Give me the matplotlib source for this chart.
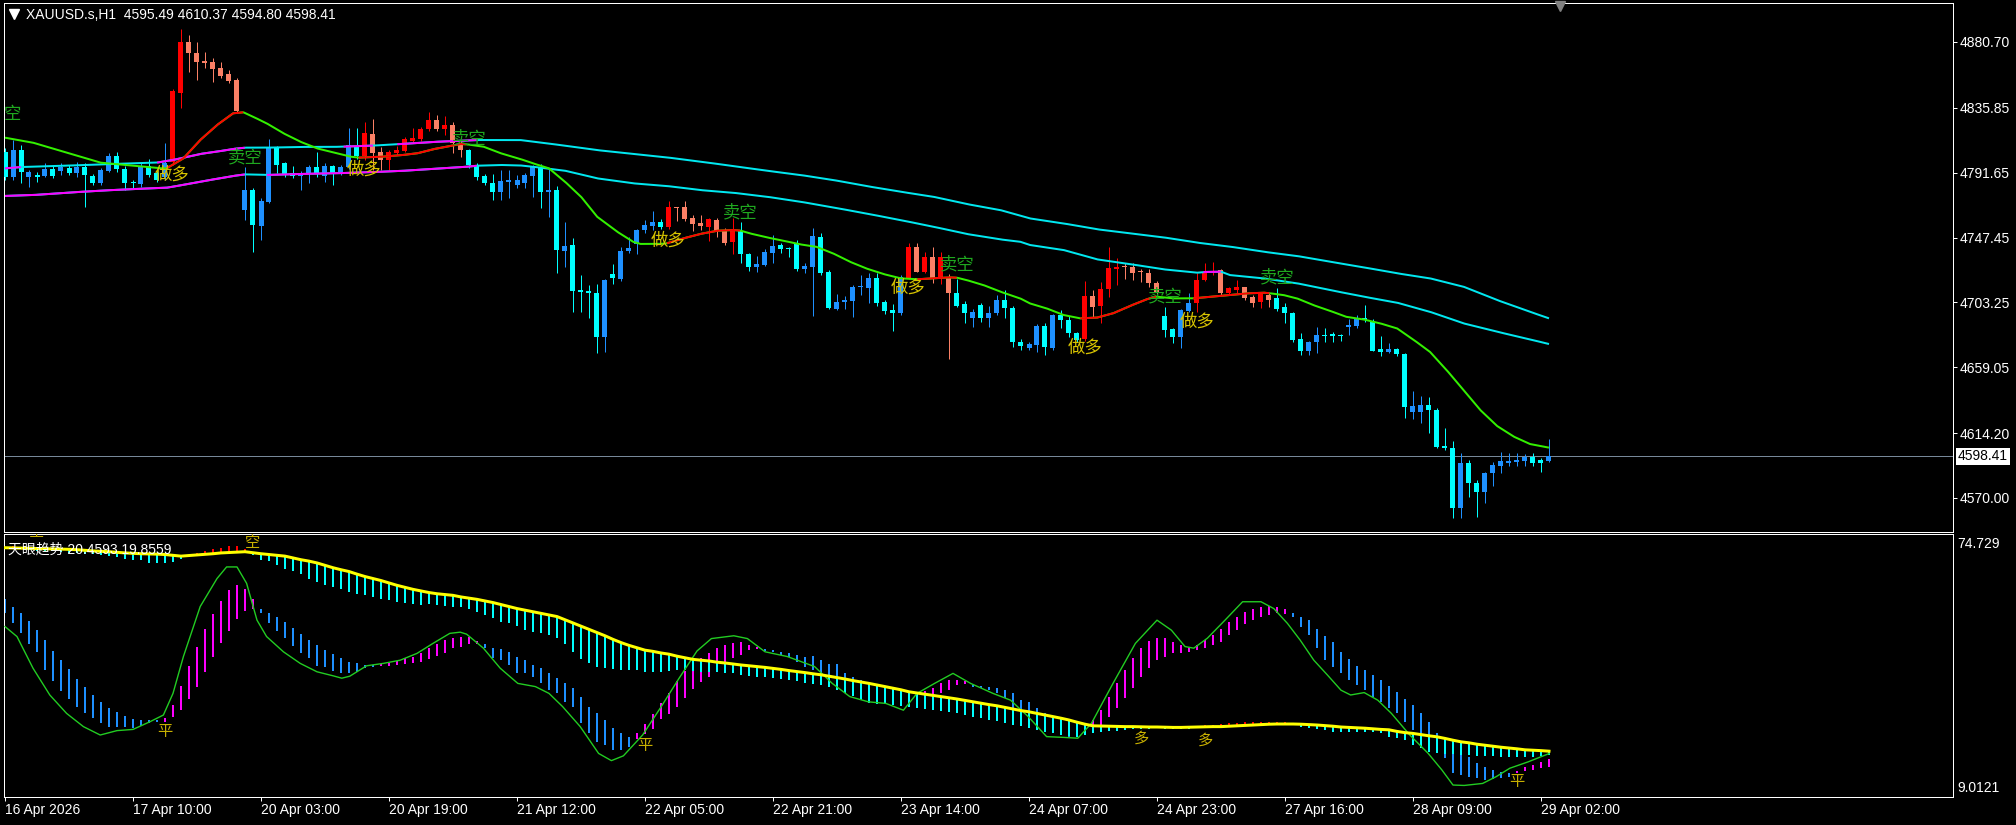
import numpy as np
import matplotlib
matplotlib.use("Agg")
import matplotlib.pyplot as plt
from matplotlib.lines import Line2D

# ---------------- data ----------------
opens = [4806.0, 4788.5, 4807.1, 4789.0, 4790.1, 4789.6, 4794.2, 4793.0, 4794.6, 4791.7,
 4795.7, 4789.4, 4784.4, 4793.0, 4803.0, 4794.2, 4785.5, 4783.9, 4796.2, 4791.2,
 4789.0, 4799.2, 4846.2, 4880.7, 4873.4, 4867.7, 4867.1, 4862.8, 4858.9, 4854.8,
 4766.2, 4779.8, 4755.5, 4771.9, 4808.7, 4798.0, 4791.7, 4789.4, 4790.8, 4795.5,
 4789.4, 4796.2, 4791.2, 4795.7, 4809.4, 4803.0, 4818.0, 4805.5, 4800.3, 4805.3,
 4806.7, 4813.5, 4814.4, 4821.6, 4827.5, 4821.6, 4824.1, 4811.7, 4807.1, 4796.9,
 4789.4, 4784.8, 4778.3, 4785.5, 4783.3, 4784.4, 4789.4, 4795.7, 4778.7, 4779.8,
 4738.5, 4742.4, 4711.7, 4711.0, 4709.9, 4679.4, 4722.6, 4719.2, 4738.3, 4742.8,
 4752.6, 4755.3, 4758.3, 4754.4, 4768.0, 4768.5, 4761.0, 4757.6, 4754.9, 4759.4,
 4752.6, 4744.6, 4752.1, 4736.2, 4727.6, 4728.7, 4737.2, 4742.4, 4740.1, 4744.0,
 4726.2, 4727.6, 4747.6, 4723.7, 4698.8, 4703.8, 4704.4, 4713.6, 4713.3, 4719.7,
 4703.8, 4698.1, 4695.8, 4719.7, 4740.8, 4724.2, 4734.4, 4719.7, 4720.3, 4709.4,
 4701.9, 4692.9, 4701.5, 4692.9, 4695.8, 4704.9, 4699.7, 4676.5, 4672.0, 4674.2,
 4687.4, 4672.0, 4694.7, 4691.3, 4682.2, 4678.1, 4707.6, 4700.8, 4712.2, 4726.3,
 4727.6, 4727.2, 4724.9, 4723.1, 4716.7, 4694.0, 4684.9, 4679.9, 4697.6, 4702.6,
 4718.5, 4723.5, 4725.3, 4709.4, 4711.9, 4713.5, 4707.2, 4703.8, 4708.3, 4706.0,
 4700.4, 4696.3, 4678.1, 4670.4, 4676.1, 4681.2, 4681.5, 4681.0, 4686.3, 4687.2,
 4692.9, 4690.2, 4671.3, 4669.5, 4671.3, 4668.1, 4628.8, 4628.8, 4633.4, 4630.0,
 4605.4, 4603.8, 4563.0, 4594.1, 4580.4, 4574.3, 4586.8, 4592.0, 4594.1, 4594.8,
 4595.2, 4598.2, 4595.9, 4595.49]
highs = [4808.2, 4813.9, 4810.5, 4793.5, 4792.3, 4798.5, 4796.0, 4798.0, 4797.0, 4799.0,
 4798.0, 4791.0, 4795.0, 4804.8, 4806.0, 4796.0, 4787.0, 4798.0, 4800.7, 4793.0,
 4811.7, 4849.0, 4889.3, 4885.5, 4880.5, 4873.9, 4869.6, 4867.3, 4861.6, 4856.0,
 4795.7, 4781.0, 4774.2, 4814.4, 4810.0, 4799.0, 4796.2, 4793.0, 4797.0, 4806.0,
 4798.0, 4797.0, 4797.0, 4821.9, 4821.9, 4826.4, 4828.0, 4809.4, 4807.0, 4809.8,
 4816.2, 4821.9, 4823.0, 4832.8, 4831.0, 4830.5, 4826.0, 4813.0, 4808.0, 4798.0,
 4791.0, 4790.5, 4793.5, 4793.5, 4790.0, 4791.5, 4797.0, 4797.5, 4794.6, 4782.6,
 4758.3, 4746.9, 4721.9, 4715.1, 4715.8, 4719.0, 4729.4, 4741.2, 4747.6, 4753.0,
 4759.4, 4765.8, 4759.9, 4772.6, 4768.5, 4772.6, 4762.8, 4762.8, 4761.0, 4760.5,
 4754.0, 4760.5, 4758.3, 4737.0, 4734.9, 4739.4, 4749.2, 4744.0, 4741.0, 4745.8,
 4729.9, 4753.7, 4750.8, 4725.3, 4709.0, 4707.6, 4715.1, 4721.9, 4723.1, 4723.5,
 4705.0, 4702.2, 4722.0, 4743.5, 4743.5, 4737.8, 4741.2, 4737.8, 4722.6, 4719.0,
 4704.4, 4698.5, 4702.6, 4700.8, 4708.3, 4711.7, 4701.0, 4678.0, 4676.0, 4688.6,
 4689.0, 4695.5, 4698.1, 4694.0, 4683.0, 4718.1, 4711.7, 4717.4, 4741.2, 4733.3,
 4729.9, 4729.9, 4725.8, 4725.8, 4718.0, 4700.4, 4686.0, 4699.0, 4709.4, 4723.1,
 4729.9, 4731.0, 4726.0, 4714.0, 4718.5, 4714.0, 4708.0, 4710.0, 4709.5, 4712.9,
 4703.1, 4697.0, 4682.6, 4677.0, 4686.7, 4685.6, 4683.3, 4682.0, 4691.7, 4694.7,
 4701.5, 4691.7, 4680.4, 4675.8, 4672.0, 4669.0, 4643.1, 4639.5, 4639.0, 4631.0,
 4617.5, 4608.8, 4600.5, 4595.9, 4582.0, 4588.0, 4594.8, 4601.6, 4600.5, 4600.5,
 4600.0, 4600.5, 4597.0, 4610.37]
lows = [4786.7, 4786.7, 4784.8, 4782.1, 4785.5, 4789.0, 4788.0, 4790.0, 4790.0, 4789.0,
 4768.0, 4783.0, 4783.0, 4792.0, 4792.0, 4779.9, 4781.0, 4782.0, 4789.0, 4785.0,
 4787.0, 4797.0, 4835.5, 4860.5, 4854.8, 4862.8, 4853.7, 4856.0, 4852.5, 4833.0,
 4759.4, 4737.8, 4745.8, 4771.0, 4791.7, 4789.0, 4787.8, 4779.9, 4784.4, 4789.0,
 4785.5, 4783.3, 4790.0, 4794.0, 4801.0, 4800.3, 4793.5, 4793.5, 4793.5, 4804.0,
 4806.0, 4812.0, 4813.0, 4820.0, 4820.0, 4817.3, 4805.3, 4802.6, 4795.0, 4786.7,
 4783.0, 4773.0, 4773.0, 4774.6, 4781.0, 4781.0, 4775.3, 4767.4, 4761.7, 4723.5,
 4727.6, 4697.0, 4697.0, 4692.9, 4668.5, 4669.2, 4715.8, 4718.0, 4737.0, 4736.2,
 4750.3, 4752.6, 4753.0, 4753.0, 4759.0, 4759.0, 4752.1, 4752.6, 4745.3, 4747.6,
 4742.4, 4736.2, 4729.9, 4724.9, 4724.2, 4728.0, 4730.3, 4737.2, 4734.4, 4725.0,
 4723.5, 4694.2, 4722.0, 4698.5, 4698.0, 4698.5, 4693.1, 4708.3, 4703.1, 4701.0,
 4695.4, 4684.0, 4695.0, 4719.0, 4724.0, 4723.0, 4716.3, 4715.8, 4664.5, 4700.0,
 4689.5, 4686.3, 4690.1, 4686.7, 4695.0, 4692.4, 4673.1, 4671.0, 4670.5, 4669.7,
 4667.4, 4671.0, 4685.6, 4679.9, 4676.0, 4677.0, 4693.5, 4689.5, 4706.7, 4715.1,
 4719.0, 4718.5, 4717.4, 4713.5, 4708.3, 4679.9, 4675.4, 4672.0, 4697.0, 4696.9,
 4718.0, 4722.0, 4708.3, 4708.0, 4709.4, 4705.0, 4699.9, 4699.2, 4700.4, 4697.6,
 4689.5, 4676.5, 4667.4, 4667.4, 4668.6, 4676.5, 4676.5, 4677.2, 4681.2, 4686.0,
 4690.0, 4670.0, 4666.8, 4669.0, 4667.0, 4624.3, 4623.6, 4620.9, 4614.1, 4604.3,
 4603.0, 4556.1, 4556.1, 4570.9, 4557.3, 4566.8, 4578.2, 4587.3, 4591.8, 4591.8,
 4591.8, 4591.8, 4588.0, 4594.80]
closes = [4789.0, 4807.1, 4791.9, 4792.1, 4789.0, 4794.2, 4789.6, 4795.7, 4791.7, 4795.7,
 4789.8, 4784.4, 4793.5, 4803.0, 4793.9, 4784.8, 4784.4, 4796.2, 4790.1, 4786.7,
 4798.0, 4847.5, 4880.7, 4873.0, 4867.3, 4866.6, 4862.5, 4857.5, 4854.3, 4833.9,
 4779.8, 4756.0, 4772.3, 4808.2, 4796.9, 4790.8, 4789.4, 4791.2, 4795.5, 4790.8,
 4796.2, 4791.2, 4795.7, 4810.5, 4803.0, 4818.5, 4805.3, 4800.3, 4806.0, 4807.1,
 4814.6, 4815.0, 4821.6, 4827.5, 4821.6, 4824.1, 4811.7, 4807.1, 4796.9, 4789.0,
 4784.4, 4778.7, 4785.7, 4786.7, 4786.7, 4790.1, 4795.7, 4778.7, 4779.8, 4739.0,
 4741.7, 4711.3, 4710.6, 4709.4, 4679.4, 4718.5, 4719.7, 4738.3, 4740.6, 4752.6,
 4756.0, 4758.3, 4754.4, 4768.5, 4767.4, 4760.1, 4756.7, 4755.5, 4759.9, 4752.1,
 4744.0, 4753.0, 4736.0, 4727.6, 4729.4, 4737.8, 4741.7, 4739.9, 4739.4, 4725.8,
 4728.1, 4748.5, 4723.1, 4699.2, 4703.8, 4704.9, 4714.0, 4714.0, 4719.7, 4702.6,
 4697.4, 4696.3, 4720.8, 4740.8, 4724.2, 4734.4, 4719.7, 4734.4, 4709.4, 4700.8,
 4695.8, 4697.0, 4692.9, 4696.3, 4704.9, 4699.2, 4676.5, 4673.5, 4674.7, 4687.4,
 4673.1, 4694.7, 4691.3, 4682.2, 4677.7, 4707.6, 4700.4, 4712.4, 4726.5, 4727.2,
 4727.2, 4723.5, 4724.0, 4716.7, 4710.6, 4684.5, 4679.9, 4698.1, 4702.6, 4718.5,
 4723.1, 4724.9, 4709.4, 4712.9, 4713.5, 4706.0, 4702.6, 4709.4, 4704.9, 4698.8,
 4696.3, 4677.7, 4670.4, 4676.5, 4681.2, 4680.4, 4680.6, 4680.2, 4687.9, 4691.7,
 4691.3, 4670.4, 4669.5, 4671.3, 4668.1, 4632.2, 4632.7, 4633.4, 4630.0, 4605.0,
 4603.8, 4563.0, 4594.1, 4580.4, 4574.3, 4586.8, 4592.5, 4595.2, 4595.2, 4595.9,
 4597.7, 4594.1, 4594.1, 4598.41]

# bars where the indicator is in the "up" state (red / salmon candles)
candle_up_ranges = [(21, 29), (45, 57), (83, 91), (113, 118), (135, 144), (149, 158)]

# fast MA (green, red while up)
fast_idx = [0, 3.5, 7.7, 11.9, 16, 19.4, 20.2, 22.3, 24.4, 26.5, 28.5, 29.8, 31, 32.7, 34.8,
 36.9, 39, 41, 43.1, 44.2, 45.2, 47.3, 49.4, 51.5, 53.5, 55.6, 56.9, 57.7, 59.8, 61.9,
 64.4, 66, 68, 70, 72, 74, 76.5, 78.5, 79.4, 81.9, 82.7, 84.8, 86.9, 89, 91,
 91.9, 93.1, 95.2, 97.3, 99.4, 101.4, 103.5, 105.6, 107.6, 109.8, 111.9, 114, 116, 118.1, 119,
 120.2, 122.3, 124.4, 126.9, 128.1, 130.2, 132.3, 134.4, 136.5, 138.5, 140.6, 142.7, 143.9, 146, 148.5,
 151, 153.1, 155.2, 157.3, 158.1, 159.8, 161.5, 163.5, 165.6, 167.6, 169.8, 171.9, 174, 176.1, 178.1,
 180.2, 182.3, 184.4, 186.5, 188.6, 190.6, 193]
fast_val = [4815.5, 4812.1, 4805.3, 4798.5, 4796.4, 4794.6, 4794.6, 4801.4, 4813.9, 4824.1,
 4832.1, 4832.8, 4829.8, 4825.3, 4818.5, 4812.8, 4808.2, 4805.5, 4802.6, 4801.9,
 4802.1, 4802.6, 4803.5, 4804.8, 4807.6, 4809.8, 4811.2, 4811.0, 4809.4, 4805.0,
 4801.0, 4798.0, 4794.6, 4785.5, 4775.3, 4761.7, 4751.5, 4744.6, 4743.1, 4743.1,
 4743.5, 4746.9, 4749.9, 4752.1, 4752.6, 4752.2, 4750.3, 4747.6, 4745.3, 4742.8,
 4741.2, 4736.7, 4731.0, 4726.5, 4722.6, 4719.7, 4719.0, 4719.7, 4720.3, 4720.1,
 4718.5, 4715.1, 4710.6, 4706.0, 4702.6, 4699.2, 4694.7, 4692.4, 4692.9, 4695.8,
 4700.8, 4705.4, 4707.2, 4706.0, 4706.0, 4707.2, 4708.3, 4709.4, 4709.9, 4709.5,
 4708.3, 4706.0, 4701.5, 4697.6, 4693.5, 4691.7, 4689.0, 4685.6, 4677.7, 4669.7,
 4657.2, 4643.6, 4630.0, 4619.1, 4611.8, 4606.8, 4604.3]
fast_up_ranges = [(20.2, 29.8), (44.2, 57.7), (82.7, 91.9), (114, 119), (134.4, 143.9), (148.5, 158.1)]

# two slow MAs (cyan, magenta while rising)
a_idx = [0, 2, 7.7, 11.9, 16, 19, 21, 24.4, 26.5, 28.5, 30, 32.7, 36.9, 41, 42.3, 46, 49, 53.5,
 59, 64.4, 68, 73.9, 78.5, 82.7, 86.9, 91, 95.2, 99.4, 103.5, 107.6, 111.9, 116, 120.2, 124.4,
 128.1, 132.3, 136.5, 140.6, 144.8, 149, 153.1, 157.3, 161.5, 165.6, 169.8, 174, 178.1, 182.3,
 186.5, 190.6, 193]
a_val = [4794.6, 4795.5, 4796.4, 4797.3, 4798.0, 4798.5, 4800.3, 4804.4, 4806.0, 4807.8,
 4808.7, 4808.7, 4809.2, 4809.2, 4809.4, 4810.1, 4811.0, 4812.6, 4813.9, 4813.9,
 4811.5, 4807.1, 4804.4, 4802.1, 4799.2, 4796.2, 4793.0, 4790.1, 4786.7, 4782.6,
 4778.7, 4775.3, 4770.3, 4766.2, 4760.5, 4757.1, 4753.1, 4750.3, 4747.6, 4744.0,
 4741.3, 4737.8, 4734.9, 4731.0, 4727.2, 4723.1, 4719.7, 4714.0, 4704.9, 4696.9, 4692.4]
a_rise_ranges = [(0, 2), (19, 30), (42.3, 46), (49, 59)]
b_idx = [0, 3.5, 7.7, 11.9, 16, 20.2, 21, 24.4, 28.5, 30, 32.7, 36.9, 41, 45.2, 49.4, 53.5,
 57.7, 59, 61.9, 64.4, 66, 70, 74, 78.5, 82.7, 86.9, 91, 95.2, 99.4, 103.5, 107.6, 111.9,
 116, 120.2, 124.4, 126.9, 128.1, 132.3, 136.5, 140.6, 144.8, 149, 150, 152, 153.1, 157.3,
 161.5, 165.6, 169.8, 174, 178.1, 182.3, 186.5, 190.6, 193]
b_val = [4775.8, 4776.4, 4778.0, 4779.4, 4780.5, 4781.4, 4782.1, 4785.5, 4789.4, 4790.5,
 4790.1, 4790.8, 4791.2, 4791.9, 4792.8, 4794.2, 4795.7, 4796.4, 4796.9, 4796.6,
 4795.7, 4793.0, 4787.8, 4784.4, 4782.6, 4779.8, 4778.0, 4775.3, 4771.9, 4768.0,
 4763.9, 4759.4, 4754.9, 4749.9, 4746.2, 4744.6, 4742.4, 4739.0, 4732.6, 4729.4,
 4725.8, 4723.5, 4724.0, 4724.2, 4721.9, 4719.7, 4716.3, 4711.7, 4707.2, 4703.1,
 4696.9, 4689.0, 4683.3, 4678.1, 4674.9]
b_rise_ranges = [(0, 30), (32.7, 59), (149.8, 152)]

# signal labels on the price chart
sig_idx = [0.9, 20.9, 30.0, 44.9, 58.0, 82.9, 91.9, 112.9, 119.0, 135.0, 145.0, 149.0, 159.0]
sig_price = [4831.3, 4790.1, 4802.3, 4793.5, 4815.3, 4745.1, 4764.9, 4713.1, 4728.8,
             4672.2, 4707.6, 4689.9, 4720.6]
sig_text = ["空", "做多", "卖空", "做多", "卖空", "做多", "卖空", "做多", "卖空",
            "做多", "卖空", "做多", "卖空"]

price_ticks = [4880.70, 4835.85, 4791.65, 4747.45, 4703.25, 4659.05, 4614.20, 4570.00]
last_price = 4598.41
x_tick_idx = [0, 16, 32, 48, 64, 80, 96, 112, 128, 144, 160, 176, 192]
x_tick_labels = ["16 Apr 2026", "17 Apr 10:00", "20 Apr 03:00", "20 Apr 19:00", "21 Apr 12:00",
                 "22 Apr 05:00", "22 Apr 21:00", "23 Apr 14:00", "24 Apr 07:00", "24 Apr 23:00",
                 "27 Apr 16:00", "28 Apr 09:00", "29 Apr 02:00"]

# ---- sub window "天眼趋势" ----
slow_line = [71.3, 71.25, 71.2, 71.15, 71.1, 71.05, 71.0, 70.95, 70.9, 70.8,
 70.65, 70.5, 70.4, 70.3, 70.15, 70.0, 69.9, 69.8, 69.75, 69.7,
 69.6, 69.4, 69.2, 69.35, 69.5, 69.65, 69.8, 70.0, 70.1, 70.2,
 70.3, 70.05, 69.8, 69.6, 69.4, 69.2, 68.75, 68.3, 67.95, 67.5,
 66.9, 66.3, 65.8, 65.35, 64.7, 64.1, 63.6, 63.1, 62.5, 61.9,
 61.4, 60.9, 60.5, 60.1, 59.8, 59.6, 59.4, 59.0, 58.7, 58.4,
 58.0, 57.6, 57.1, 56.6, 56.1, 55.7, 55.3, 54.9, 54.5, 54.1,
 53.3, 52.5, 51.7, 50.9, 50.1, 49.3, 48.4, 47.6, 46.9, 46.3,
 45.7, 45.4, 45.0, 44.7, 44.2, 43.8, 43.4, 43.2, 43.0, 42.7,
 42.5, 42.25, 42.0, 41.8, 41.6, 41.4, 41.15, 40.9, 40.6, 40.35,
 40.1, 39.8, 39.55, 39.2, 38.85, 38.5, 38.1, 37.75, 37.4, 37.0,
 36.6, 36.2, 35.8, 35.3, 35.0, 34.7, 34.4, 34.1, 33.8, 33.5,
 33.15, 32.8, 32.45, 32.1, 31.8, 31.4, 31.0, 30.6, 30.3, 29.9,
 29.5, 29.1, 28.7, 28.25, 27.7, 27.2, 26.8, 26.75, 26.7, 26.65,
 26.6, 26.6, 26.55, 26.5, 26.5, 26.45, 26.4, 26.4, 26.45, 26.5,
 26.55, 26.6, 26.6, 26.7, 26.8, 26.9, 27.0, 27.1, 27.2, 27.25,
 27.25, 27.25, 27.2, 27.1, 27.0, 26.85, 26.7, 26.5, 26.4, 26.3,
 26.2, 26.05, 25.9, 25.8, 25.4, 25.1, 24.9, 24.6, 24.3, 24.05,
 23.65, 23.2, 22.8, 22.55, 22.2, 21.95, 21.7, 21.45, 21.25, 21.05,
 20.8, 20.7, 20.6, 20.46]
hist_end = [71.0, 71.8, 70.9, 70.8, 70.6, 70.5, 70.4, 70.2, 70.0, 69.9,
 69.7, 69.7, 69.5, 69.2, 68.9, 68.4, 68.2, 68.2, 67.6, 67.4,
 67.6, 67.8, 68.6, 69.6, 69.9, 70.6, 71.1, 71.3, 71.8, 71.8,
 70.9, 69.5, 68.2, 68.0, 67.1, 66.1, 65.6, 64.7, 63.6, 62.8,
 62.0, 61.6, 60.9, 60.3, 59.7, 59.5, 59.1, 58.6, 58.2, 57.8,
 57.4, 57.2, 57.1, 57.2, 56.9, 56.7, 56.6, 56.4, 55.9, 55.2,
 54.5, 53.8, 52.8, 52.4, 51.7, 50.7, 50.3, 49.9, 49.5, 48.8,
 47.3, 45.3, 43.5, 42.4, 41.6, 41.2, 40.9, 40.7, 40.7, 40.7,
 40.3, 40.3, 40.3, 40.5, 40.8, 40.8, 40.5, 40.3, 40.3, 40.3,
 40.1, 39.9, 39.6, 39.3, 39.1, 38.9, 38.7, 38.5, 38.2, 37.9,
 37.6, 37.3, 37.0, 36.6, 35.8, 35.0, 34.2, 33.2, 32.4, 32.3,
 32.2, 32.0, 31.8, 31.6, 31.3, 31.0, 30.8, 30.5, 30.2, 29.9,
 29.5, 29.1, 28.7, 28.3, 27.9, 27.5, 27.1, 26.7, 26.2, 25.8,
 25.3, 25.0, 24.6, 24.2, 24.1, 24.5, 24.9, 25.3, 25.5, 25.6,
 25.8, 25.9, 26.0, 26.1, 26.2, 26.0, 25.9, 25.9, 25.9, 26.3,
 26.9, 27.0, 27.2, 27.4, 27.6, 27.7, 27.8, 27.8, 27.8, 27.8,
 27.8, 27.6, 26.6, 26.15, 25.9, 25.7, 25.3, 25.3, 25.3, 25.3,
 25.3, 25.3, 24.9, 24.1, 23.7, 23.2, 22.0, 21.2, 20.3, 19.9,
 19.75, 19.7, 19.5, 19.4, 19.33, 19.25, 19.16, 19.08, 19.08, 19.08,
 19.0, 18.9, 19.25, 19.5]
osc_top = [58.5, 56.6, 54.9, 53.0, 50.7, 48.2, 45.6, 43.2, 40.9, 38.4,
 36.4, 34.5, 32.7, 31.3, 30.2, 29.2, 28.5, 28.2, 28.2, 28.2,
 28.7, 32.0, 36.7, 41.7, 46.6, 50.9, 54.7, 58.1, 60.7, 62.0,
 60.9, 58.4, 55.9, 54.9, 53.9, 52.7, 51.3, 49.7, 48.2, 47.0,
 45.7, 44.7, 43.7, 42.8, 42.4, 42.0, 42.0, 42.2, 42.4, 43.1,
 43.7, 44.1, 44.9, 46.2, 47.2, 48.2, 48.7, 49.1, 49.1, 48.1,
 47.2, 46.3, 46.0, 45.3, 44.1, 43.2, 42.0, 41.2, 39.9, 38.7,
 37.4, 36.2, 34.1, 31.6, 29.9, 28.2, 26.2, 24.9, 24.1, 25.0,
 27.3, 29.8, 32.6, 35.1, 38.0, 40.5, 42.4, 43.8, 44.9, 46.2,
 47.0, 47.6, 47.8, 47.0, 46.4, 45.9, 45.7, 45.3, 44.9, 44.5,
 44.1, 44.2, 43.2, 42.2, 42.2, 40.1, 39.1, 38.2, 37.4, 37.0,
 36.6, 36.2, 35.7, 35.3, 35.0, 35.4, 36.2, 37.4, 38.2, 38.2,
 38.0, 37.0, 36.8, 36.6, 36.2, 35.7, 34.9, 33.2, 32.8, 31.2,
 29.9, 29.1, 28.2, 27.8, 27.8, 27.0, 28.2, 30.7, 34.1, 37.4,
 40.7, 43.7, 46.2, 48.1, 48.7, 48.7, 47.8, 47.0, 46.6, 47.0,
 48.2, 49.5, 51.1, 52.8, 54.1, 55.3, 56.1, 56.6, 56.7, 56.4,
 55.9, 54.9, 54.1, 53.2, 51.1, 49.2, 47.8, 45.3, 43.4, 41.8,
 40.7, 39.5, 38.2, 36.7, 35.3, 33.4, 32.0, 29.9, 27.8, 24.9,
 23.7, 22.2, 20.7, 18.9, 17.4, 16.4, 15.8, 15.3, 14.9, 15.6,
 16.6, 17.0, 17.8, 18.4]
osc_bot = [55.0, 52.6, 50.1, 47.2, 45.3, 40.7, 38.1, 35.6, 33.4, 31.6,
 30.1, 28.7, 27.4, 26.6, 26.4, 26.6, 26.2, 26.8, 27.4, 27.8,
 27.8, 28.9, 30.7, 33.4, 36.6, 40.3, 43.9, 47.4, 50.6, 53.4,
 55.5, 55.9, 54.9, 52.6, 50.6, 48.7, 46.8, 44.9, 43.7, 41.8,
 41.6, 40.6, 40.1, 40.1, 40.3, 41.2, 41.6, 41.7, 41.8, 42.0,
 42.2, 42.4, 42.8, 43.4, 44.2, 45.1, 46.2, 46.6, 47.2, 47.2,
 46.2, 43.7, 43.2, 42.0, 39.9, 39.9, 39.1, 37.4, 35.7, 34.9,
 32.8, 31.6, 27.4, 24.9, 22.8, 22.0, 20.7, 20.7, 21.6, 23.5,
 24.7, 26.0, 28.4, 29.7, 31.5, 33.8, 35.9, 37.8, 39.1, 40.7,
 42.4, 43.7, 44.5, 45.7, 45.9, 45.6, 45.2, 44.5, 44.1, 42.8,
 41.6, 40.7, 39.5, 38.2, 37.0, 35.7, 34.9, 34.1, 33.2, 32.8,
 32.4, 32.2, 32.0, 32.0, 33.4, 34.0, 34.5, 34.9, 35.7, 37.0,
 37.2, 36.6, 36.2, 35.7, 34.9, 33.7, 30.3, 28.2, 26.6, 26.2,
 26.2, 25.3, 24.9, 24.1, 24.1, 25.5, 26.6, 27.0, 29.1, 31.2,
 33.7, 36.2, 39.1, 41.2, 43.2, 44.1, 44.9, 45.1, 45.3, 45.7,
 46.2, 47.0, 47.8, 49.5, 50.7, 52.2, 53.2, 54.1, 54.5, 54.9,
 54.7, 54.1, 51.6, 49.5, 46.2, 43.2, 41.6, 39.9, 38.2, 37.0,
 35.7, 34.1, 32.8, 31.2, 29.9, 27.8, 25.7, 23.2, 21.6, 19.9,
 18.7, 14.9, 14.5, 14.1, 13.7, 13.2, 13.4, 13.7, 14.1, 15.1,
 15.6, 15.8, 16.2, 16.4]
osc_up_ranges = [(20, 31), (47, 59), (79, 94), (115, 120), (136, 160), (189, 193)]
g_idx = [0, 1.5, 3.5, 5.6, 7.7, 9.8, 11.9, 14, 16, 18.1, 19.8, 21, 22.3, 24.4, 26.5, 27.7, 29,
 30.2, 31.5, 32.7, 34.8, 36.9, 39, 41, 42.1, 43.1, 45.2, 47.3, 49.4, 51.5, 53.5, 55.6, 56.9,
 57.7, 59.8, 61.9, 64.1, 66.3, 68, 69.7, 71.9, 74.2, 75.8, 77.3, 79.7, 82, 84.2, 86.5, 88.3,
 91.1, 92.8, 95, 97.8, 101.2, 103.4, 105.6, 107.9, 110.1, 112.3, 114, 116.2, 118.5, 120.7,
 123.5, 125.7, 127.9, 130.2, 132.4, 134.1, 135.8, 138.5, 141.3, 144, 145.8, 147.5, 148.6,
 150.3, 152.5, 154.7, 157, 158.6, 160.3, 161.9, 163.6, 165.3, 167, 168.2, 169.9, 171.6,
 173.3, 175.6, 177.9, 179.6, 181, 182.4, 184.7, 186.4, 188.1, 190.4, 193]
g_val = [51.6, 49.1, 41.2, 34.5, 29.9, 26.6, 24.5, 25.6, 25.9, 27.8, 29.5, 34.9, 44.1, 56.6,
 63.6, 66.5, 66.5, 62.4, 53.2, 49.1, 45.3, 42.4, 40.3, 39.3, 38.7, 39.2, 41.8, 42.4, 43.2,
 44.9, 47.4, 49.9, 50.2, 49.7, 46.2, 41.2, 37.4, 36.6, 34.9, 31.6, 26.6, 19.9, 18.1, 19.3,
 24.5, 31.5, 38.5, 45.5, 48.6, 49.3, 48.6, 45.3, 44.1, 41.6, 37.4, 34.1, 32.8, 32.4, 30.7,
 34.9, 37.4, 39.9, 37.4, 34.9, 33.2, 29.1, 24.1, 23.9, 23.7, 27.4, 37.4, 47.4, 53.2, 50.7,
 46.6, 46.2, 48.7, 53.2, 57.8, 57.8, 56.1, 52.4, 48.2, 43.2, 39.5, 35.7, 34.5, 35.1, 33.2,
 29.9, 24.5, 19.9, 15.8, 12.0, 11.9, 12.4, 14.1, 16.2, 17.8, 19.86]
sub_sig_idx = [4, 20, 31, 80, 142, 150, 189]
sub_sig_val = [75.4, 25.5, 72.5, 22.0, 23.7, 23.2, 12.8]
sub_sig_text = ["空", "平", "空", "平", "多", "多", "平"]
sub_min, sub_max = 9.0121, 74.729

# ---------------- drawing ----------------
W, H, DPI = 2016, 825, 100
plt.rcParams['font.family'] = ['Liberation Sans', 'Noto Sans CJK SC', 'DejaVu Sans']
CJK = ['Noto Sans CJK SC', 'DejaVu Sans']

fig = plt.figure(figsize=(W / DPI, H / DPI), dpi=DPI, facecolor='black')
ax = fig.add_axes([4 / W, 1 - 532 / H, 1949 / W, 529 / H], facecolor='black')
ax2 = fig.add_axes([4 / W, 1 - 797 / H, 1949 / W, 263 / H], facecolor='black')
XL = (-0.125, 243.5)
px = 0.72  # one pixel in points

o = np.array(opens); h = np.array(highs); l = np.array(lows); c = np.array(closes)
n = len(o)
idx = np.arange(n)


def in_ranges(x, ranges):
    return any(a <= x <= b for a, b in ranges)


cols = []
for i in range(n):
    up = in_ranges(i, candle_up_ranges)
    bull = c[i] >= o[i]
    if up:
        cols.append('#FF0000' if bull else '#FA8066')
    else:
        cols.append('#1E90FF' if bull else '#00FFFF')

ax.vlines(idx, l, h, colors=cols, linewidth=px, zorder=2)
ax.bar(idx, np.maximum(np.abs(c - o), 0.7), bottom=np.minimum(o, c), width=5 / 8,
       color=cols, linewidth=0, zorder=3)


def colored_line(axis, kx, ky, base, alt, ranges, lw, z):
    xs = np.linspace(kx[0], kx[-1], 4000)
    ys = np.interp(xs, kx, ky)
    axis.plot(xs, ys, color=base, lw=lw, zorder=z, solid_capstyle='butt')
    for a, b in ranges:
        m = (xs >= a) & (xs <= b)
        axis.plot(xs[m], ys[m], color=alt, lw=lw, zorder=z + 0.1, solid_capstyle='butt')


colored_line(ax, a_idx, a_val, '#00E8F0', '#FF00FF', a_rise_ranges, 2 * px, 4)
colored_line(ax, b_idx, b_val, '#00E8F0', '#FF00FF', b_rise_ranges, 2 * px, 4)
colored_line(ax, fast_idx, fast_val, '#33F000', '#FF0000', fast_up_ranges, 2 * px, 5)

for xi, yi, t in zip(sig_idx, sig_price, sig_text):
    colr = '#D8C400' if t == "做多" else '#1FA81F'
    ax.text(xi, yi, t, ha='center', va='center', color=colr, fontsize=12.5, family=CJK,
            zorder=7, clip_on=True)

ax.axhline(last_price, color='#778899', lw=px, zorder=1)
ax.set_xlim(*XL)
ax.set_ylim(4546.83, 4907.26)
ax.set_xticks([])
ax.yaxis.tick_right()
ax.set_yticks(price_ticks)
ax.set_yticklabels([f"{v:.2f}" for v in price_ticks])
ax.tick_params(axis='y', direction='out', length=2.9, width=px, color='white',
               labelcolor='white', labelsize=10, pad=2.2)
ax.text(1.0026, last_price, f"{last_price:.2f}", transform=ax.get_yaxis_transform(),
        ha='left', va='center', color='black', fontsize=10, clip_on=False, zorder=10,
        bbox=dict(boxstyle='square,pad=0.12', fc='white', ec='none'))

# ---- sub window ----
sl = np.array(slow_line); he = np.array(hist_end)
ot = np.array(osc_top); ob = np.array(osc_bot)
ocols = ['#FF00FF' if in_ranges(i, osc_up_ranges) else '#1E90FF' for i in range(n)]
lo = np.minimum(ot, ob); hi = np.maximum(ot, ob)
hi = np.maximum(hi, lo + 0.3)
ax2.vlines(idx, lo, hi, colors=ocols, linewidth=2 * px, zorder=2)
hcols = ['#FF0000' if he[i] > sl[i] else '#00FFFF' for i in range(n)]
lo2 = np.minimum(sl, he); hi2 = np.maximum(sl, he)
ax2.vlines(idx, lo2, hi2, colors=hcols, linewidth=2 * px, zorder=3)
ax2.plot(g_idx, g_val, color='#22CC22', lw=1.0, zorder=4)
ax2.plot(idx, sl, color='#FFFF00', lw=3 * px, zorder=5)
for xi, yi, t in zip(sub_sig_idx, sub_sig_val, sub_sig_text):
    ax2.text(xi, yi, t, ha='center', va='center', color='#C8B000', fontsize=11, family=CJK,
             zorder=7, clip_on=True)

ax2.set_xlim(*XL)
ax2.set_ylim(sub_min, sub_max)
ax2.set_yticks([])
ax2.set_xticks(x_tick_idx)
ax2.set_xticklabels(x_tick_labels)
for lab in ax2.get_xticklabels():
    lab.set_ha('left')
ax2.tick_params(axis='x', direction='out', length=2.9, width=px, color='white',
                labelcolor='white', labelsize=10, pad=1.5)

for a_ in (ax, ax2):
    for s in a_.spines.values():
        s.set_color('white')
        s.set_linewidth(px)

fig.text(1957 / W, 1 - 544 / H, f"{sub_max:.3f}", color='white', fontsize=10, va='center')
fig.text(1957 / W, 1 - 788 / H, f"{sub_min:.4f}", color='white', fontsize=10, va='center')
fig.text(8 / W, 1 - 550 / H, "天眼趋势 20.4593 19.8559", color='white',
         fontsize=10, va='center', ha='left', zorder=9)

fig.text(26 / W, 1 - 15 / H, "XAUUSD.s,H1  4595.49 4610.37 4594.80 4598.41",
         color='white', fontsize=10, va='center')
fig.add_artist(Line2D([13.5 / W], [1 - 14 / H], marker='v', markersize=6.5, color='white',
                      linestyle='none', transform=fig.transFigure))
fig.add_artist(Line2D([1560 / W], [1 - 6 / H], marker='v', markersize=7, color='#808080',
                      linestyle='none', transform=fig.transFigure))

fig.savefig("out.png", dpi=DPI, facecolor='black')
